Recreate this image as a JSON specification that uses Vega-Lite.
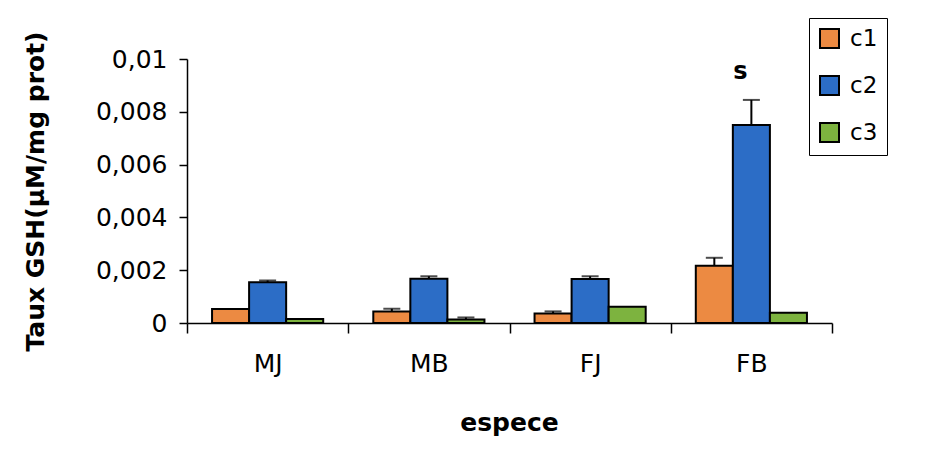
{
  "$schema": "https://vega.github.io/schema/vega-lite/v6.json",
  "width": 645,
  "height": 264,
  "autosize": {"type": "none"},
  "padding": {"left": 187, "top": 59, "right": 108, "bottom": 142},
  "background": "white",
  "config": {
    "view": {"stroke": null},
    "font": "DejaVu Sans",
    "axis": {"domainColor": "black", "domainWidth": 1.5, "tickColor": "black", "tickWidth": 1.5, "labelColor": "black", "titleColor": "black", "grid": false, "labelFont": "DejaVu Sans", "titleFont": "DejaVu Sans"},
    "legend": {"orient": "none", "legendX": 622, "legendY": -41, "symbolType": "square", "symbolSize": 361, "symbolStrokeColor": "black", "symbolStrokeWidth": 2, "labelFontSize": 23, "labelColor": "black", "labelFont": "DejaVu Sans", "strokeColor": "black", "fillColor": "white", "padding": 9, "rowPadding": 20, "labelOffset": 9}
  },
  "datasets": {
    "bars": [
      {"espece": "MJ", "cond": "c1", "value": 0.00053, "upper": null},
      {"espece": "MJ", "cond": "c2", "value": 0.00154, "upper": 0.00161},
      {"espece": "MJ", "cond": "c3", "value": 0.00015, "upper": null},
      {"espece": "MB", "cond": "c1", "value": 0.00044, "upper": 0.00054},
      {"espece": "MB", "cond": "c2", "value": 0.00168, "upper": 0.00177},
      {"espece": "MB", "cond": "c3", "value": 0.00013, "upper": 0.00021},
      {"espece": "FJ", "cond": "c1", "value": 0.00036, "upper": 0.00044},
      {"espece": "FJ", "cond": "c2", "value": 0.00167, "upper": 0.00177},
      {"espece": "FJ", "cond": "c3", "value": 0.00062, "upper": null},
      {"espece": "FB", "cond": "c1", "value": 0.00217, "upper": 0.00247},
      {"espece": "FB", "cond": "c2", "value": 0.0075, "upper": 0.00845},
      {"espece": "FB", "cond": "c3", "value": 0.00039, "upper": null}
    ],
    "labels": [
      {"espece": "FB", "cond": "c2", "value": 0.0095, "label": "s"}
    ]
  },
  "layer": [
    {
      "data": {"name": "bars"},
      "mark": {"type": "bar", "stroke": "black", "strokeWidth": 2},
      "encoding": {
        "x": {"field": "espece", "type": "nominal", "sort": ["MJ", "MB", "FJ", "FB"], "scale": {"paddingInner": 0, "paddingOuter": 0},
          "axis": {"title": "espece", "titleFontSize": 25, "titleFontWeight": "bold", "titleX": 322, "titleY": 99, "titleBaseline": "middle", "labelAngle": 0, "labelFontSize": 25, "labelPadding": 18, "tickSize": 10, "tickBand": "extent"}},
        "xOffset": {"field": "cond", "type": "nominal", "scale": {"domain": ["c1", "c2", "c3"], "paddingInner": 0, "paddingOuter": 0.676}},
        "y": {"field": "value", "type": "quantitative", "scale": {"domain": [0, 0.01], "nice": false},
          "axis": {"title": "Taux GSH(µM/mg prot)", "titleFontSize": 25, "titleFontWeight": "bold", "titleX": -152, "titleY": 132, "titleBaseline": "middle", "values": [0, 0.002, 0.004, 0.006, 0.008, 0.01], "labelExpr": "replace(toString(datum.value), '.', ',')", "labelFontSize": 25, "labelPadding": 12, "tickSize": 8}},
        "color": {"field": "cond", "type": "nominal", "scale": {"domain": ["c1", "c2", "c3"], "range": ["#EC8A42", "#2C6DC6", "#7DB33F"]}, "legend": {"title": null}}
      }
    },
    {
      "data": {"name": "bars"},
      "transform": [{"filter": "datum.upper != null"}],
      "mark": {"type": "rule", "color": "black", "strokeWidth": 2},
      "encoding": {
        "x": {"field": "espece", "type": "nominal", "sort": ["MJ", "MB", "FJ", "FB"]},
        "xOffset": {"field": "cond", "type": "nominal"},
        "y": {"field": "value", "type": "quantitative"},
        "y2": {"field": "upper"}
      }
    },
    {
      "data": {"name": "bars"},
      "transform": [{"filter": "datum.upper != null"}],
      "mark": {"type": "tick", "color": "black", "thickness": 2, "size": 17},
      "encoding": {
        "x": {"field": "espece", "type": "nominal", "sort": ["MJ", "MB", "FJ", "FB"]},
        "xOffset": {"field": "cond", "type": "nominal"},
        "y": {"field": "upper", "type": "quantitative"}
      }
    },
    {
      "data": {"name": "labels"},
      "mark": {"type": "text", "fontSize": 24, "fontWeight": "bold", "dx": -11, "color": "black", "font": "DejaVu Sans"},
      "encoding": {
        "x": {"field": "espece", "type": "nominal", "sort": ["MJ", "MB", "FJ", "FB"]},
        "xOffset": {"field": "cond", "type": "nominal"},
        "y": {"field": "value", "type": "quantitative"},
        "text": {"field": "label"}
      }
    }
  ]
}
